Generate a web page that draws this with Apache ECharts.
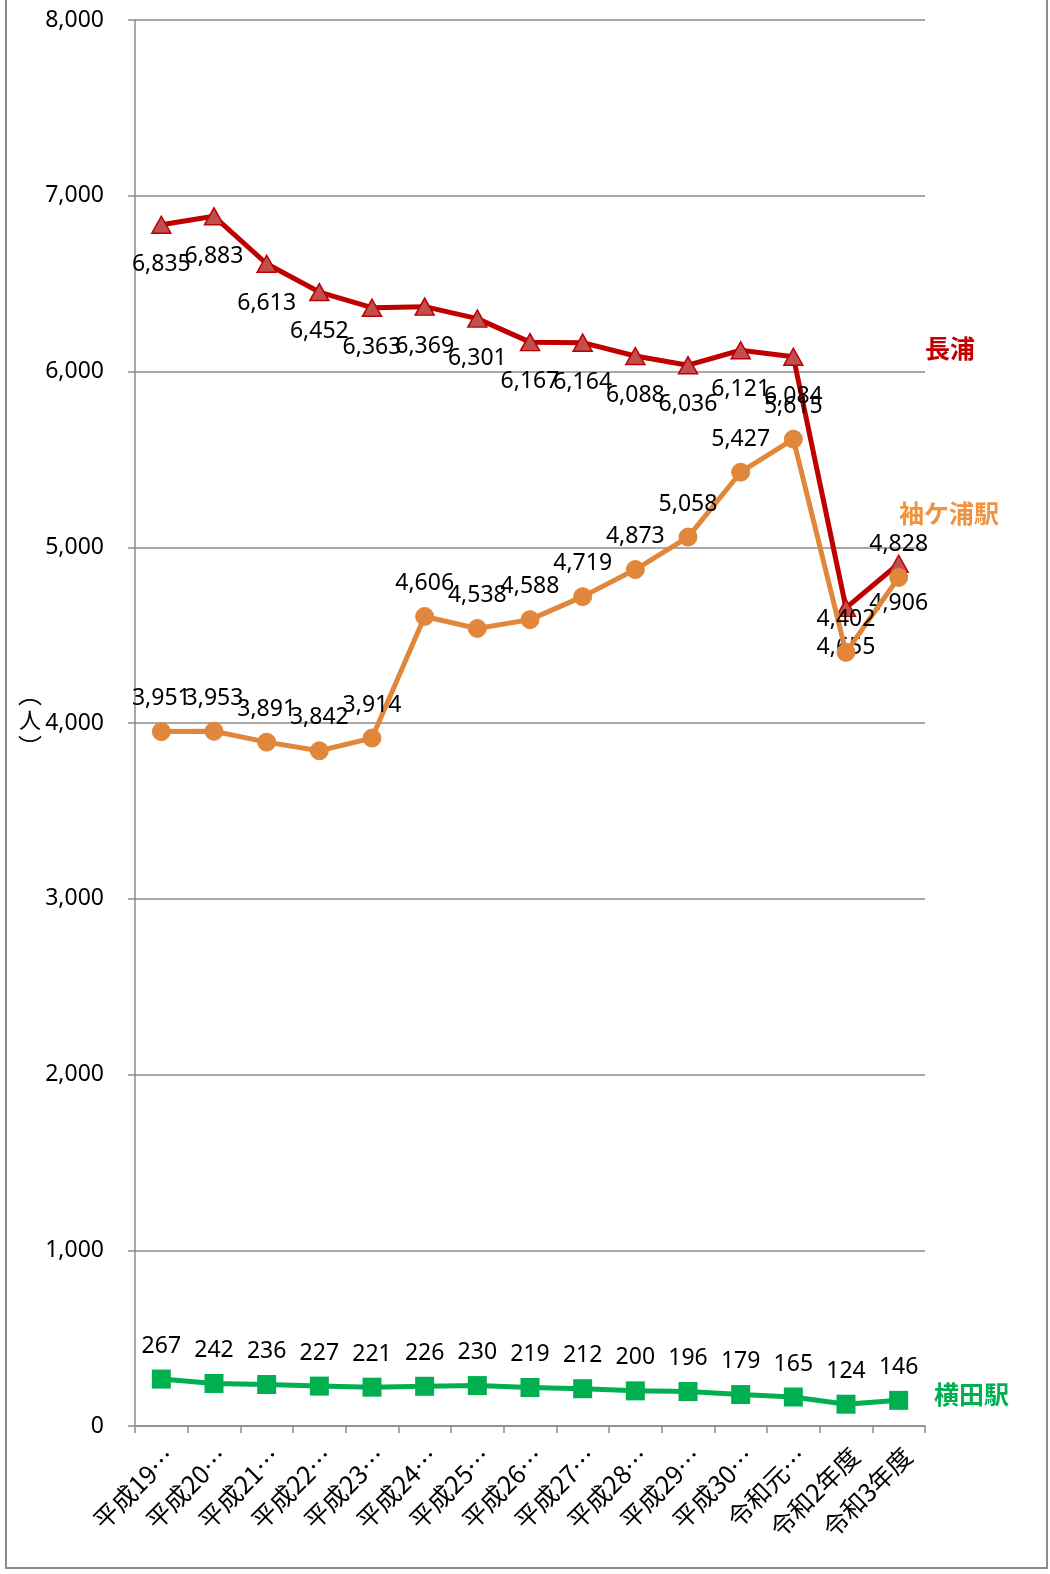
<!DOCTYPE html>
<html><head><meta charset="utf-8">
<script src="https://cdn.jsdelivr.net/npm/echarts@6/dist/echarts.min.js"></script>
<style>html,body{margin:0;padding:0;background:#fff}#c{width:1050px;height:1574px}</style>
</head><body><div id="c"></div>
<script>
var categories = ['平成19…','平成20…','平成21…','平成22…','平成23…','平成24…','平成25…','平成26…','平成27…','平成28…','平成29…','平成30…','令和元…','令和2年度','令和3年度'];
var nagauraName = '長浦';
var nagaura = [6835, 6883, 6613, 6452, 6363, 6369, 6301, 6167, 6164, 6088, 6036, 6121, 6084, 4655, 4906];
var sodegauraName = '袖ケ浦駅';
var sodegaura = [3951, 3953, 3891, 3842, 3914, 4606, 4538, 4588, 4719, 4873, 5058, 5427, 5615, 4402, 4828];
var yokotaName = '横田駅';
var yokota = [267, 242, 236, 227, 221, 226, 230, 219, 212, 200, 196, 179, 165, 124, 146];
var yMin = 0, yMax = 8000, yStep = 1000;
var yUnit = ['︵', '人', '︶'];

var numFont = '"Noto Sans", "Noto Sans CJK JP"';
var cjkFont = '"Noto Sans CJK JP"';
function fmt(v){ return String(v).replace(/\B(?=(\d{3})+(?!\d))/g, ','); }

var chart = echarts.init(document.getElementById('c'), null, {renderer:'canvas'});
chart.setOption({
  animation: false,
  backgroundColor: '#fff',
  grid: {left: 135, right: 125, top: 20, bottom: 148, containLabel: false},
  xAxis: {
    type: 'category', data: categories, boundaryGap: true,
    axisLine: {lineStyle: {color: '#8c8c8c', width: 1.5}},
    axisTick: {show: true, length: 7, lineStyle: {color: '#8c8c8c', width: 1.5}},
    axisLabel: {rotate: 45, interval: 0, margin: 17, fontSize: 25, color: '#000', fontFamily: cjkFont, verticalAlign: 'top'}
  },
  yAxis: {
    type: 'value', min: yMin, max: yMax, interval: yStep,
    axisLine: {show: true, lineStyle: {color: '#8c8c8c', width: 1.5}},
    axisTick: {show: true, length: 7, lineStyle: {color: '#8c8c8c', width: 1.5}},
    splitLine: {lineStyle: {color: '#8c8c8c', width: 1.5}},
    axisLabel: {margin: 31, fontSize: 23, color: '#000', fontFamily: numFont, formatter: function(v){return fmt(v);}}
  },
  series: [
    {
      name: nagauraName, type: 'line', data: nagaura, z: 3,
      symbol: 'triangle', symbolSize: [19, 17],
      lineStyle: {color: '#C00000', width: 5},
      itemStyle: {color: '#C0504D', borderColor: '#C00000', borderWidth: 1.5},
      label: {show: true, position: 'bottom', distance: 19, fontSize: 23, color: '#000', fontFamily: numFont, formatter: function(p){return fmt(p.value);}}
    },
    {
      name: sodegauraName, type: 'line', data: sodegaura, z: 4,
      symbol: 'circle', symbolSize: 18,
      lineStyle: {color: '#E0873C', width: 5},
      itemStyle: {color: '#E0873C', borderColor: '#E0873C', borderWidth: 1},
      label: {show: true, position: 'top', distance: 12, fontSize: 23, color: '#000', fontFamily: numFont, formatter: function(p){return fmt(p.value);}}
    },
    {
      name: yokotaName, type: 'line', data: yokota, z: 5,
      symbol: 'rect', symbolSize: 19,
      lineStyle: {color: '#00B050', width: 5},
      itemStyle: {color: '#00B050'},
      label: {show: true, position: 'top', distance: 12, fontSize: 23, color: '#000', fontFamily: numFont, formatter: function(p){return fmt(p.value);}}
    }
  ],
  graphic: [
    {type: 'rect', shape: {x: 6, y: -10, width: 1041, height: 1578}, style: {fill: 'none', stroke: '#8c8c8c', lineWidth: 2}, silent: true},
    {type: 'text', x: 30, y: 694, style: {text: yUnit[0], font: '24px "Noto Sans CJK JP"', fill: '#000', align: 'center', verticalAlign: 'middle'}},
    {type: 'text', x: 30, y: 720, style: {text: yUnit[1], font: '22px "Noto Sans CJK JP"', fill: '#000', align: 'center', verticalAlign: 'middle'}},
    {type: 'text', x: 30, y: 747, style: {text: yUnit[2], font: '24px "Noto Sans CJK JP"', fill: '#000', align: 'center', verticalAlign: 'middle'}},
    {type: 'text', left: 925, top: 336, style: {text: nagauraName, font: 'bold 25px "Noto Sans CJK JP"', fill: '#C00000'}},
    {type: 'text', left: 899, top: 501, style: {text: sodegauraName, font: 'bold 25px "Noto Sans CJK JP"', fill: '#F0923E'}},
    {type: 'text', left: 934, top: 1382, style: {text: yokotaName, font: 'bold 25px "Noto Sans CJK JP"', fill: '#00B050'}}
  ]
});
</script></body></html>
